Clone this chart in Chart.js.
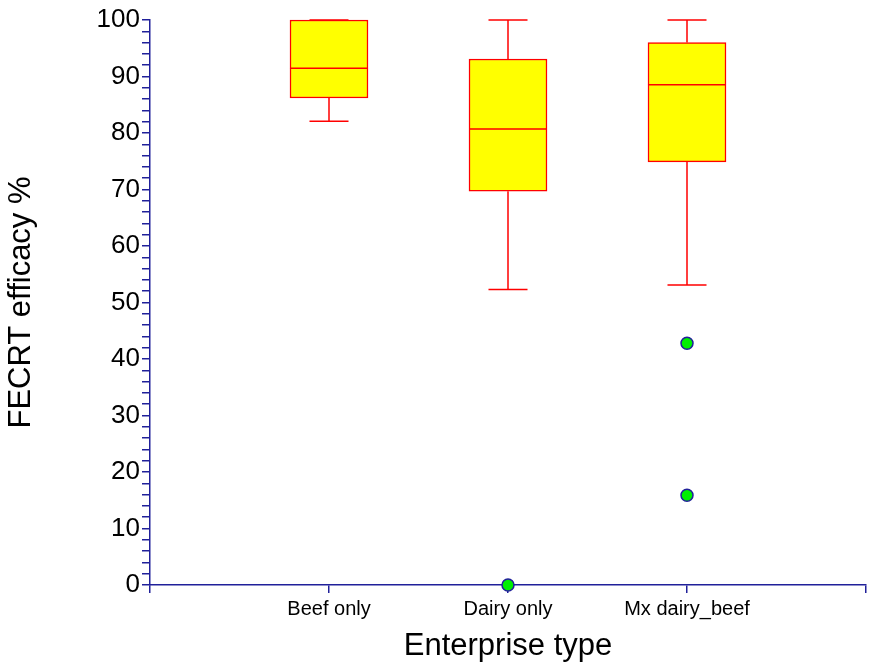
<!DOCTYPE html>
<html>
<head>
<meta charset="utf-8">
<script src="https://cdn.jsdelivr.net/npm/chart.js@4"></script>
<style>
  html, body { margin: 0; padding: 0; background: #fff; }
  #wrap { width: 869px; height: 667px; }
</style>
</head>
<body>
<div id="wrap"><canvas id="boxChart" width="869" height="667"></canvas></div>
<script>
// values
const categories = ["Beef only", "Dairy only", "Mx dairy_beef"];
const whiskerLow = [82.1, 52.3, 53.1];
const quartile1 = [86.2, 69.7, 74.9];
const medians = [91.45, 80.7, 88.55];
const quartile3 = [100, 93.1, 96.0];
const whiskerHigh = [100, 100, 100];
const outlierGroup = [2, 3, 3];
const outlierValues = [0, 42.8, 15.9];
const yTicks = { min: 0, max: 100, step: 2, labelEvery: 10 };

const axisBlue = "#20209a";
const boxHalf = 0.218;
const capHalf = 0.109;

const boxData = categories.map((c, i) => ({ x: i + 1, y: [quartile1[i], quartile3[i]] }));

const whiskerData = [];
const capData = [];
const medianData = [];
categories.forEach((c, i) => {
  const x = i + 1;
  whiskerData.push({ x: x, y: quartile3[i] }, { x: x, y: whiskerHigh[i] }, { x: x, y: null });
  whiskerData.push({ x: x, y: quartile1[i] }, { x: x, y: whiskerLow[i] }, { x: x, y: null });
  capData.push({ x: x - capHalf, y: whiskerHigh[i] }, { x: x + capHalf, y: whiskerHigh[i] }, { x: x, y: null });
  capData.push({ x: x - capHalf, y: whiskerLow[i] }, { x: x + capHalf, y: whiskerLow[i] }, { x: x, y: null });
  medianData.push({ x: x - boxHalf, y: medians[i] }, { x: x + boxHalf, y: medians[i] }, { x: x, y: null });
});
const outlierData = outlierValues.map((v, i) => ({ x: outlierGroup[i], y: v }));

const font = "'Liberation Sans', Arial, sans-serif";

const segLine = (data, order) => ({
  type: "line",
  data: data,
  borderColor: "#ff0000",
  borderWidth: 1.5,
  pointRadius: 0,
  spanGaps: false,
  fill: false,
  clip: false,
  order: order,
});

new Chart(document.getElementById("boxChart").getContext("2d"), {
  type: "bar",
  data: {
    datasets: [
      {
        type: "bar",
        data: boxData,
        backgroundColor: "#ffff00",
        borderColor: "#ff0000",
        borderWidth: 1.5,
        borderSkipped: false,
        barThickness: 78,
        clip: false,
        order: 4,
      },
      segLine(whiskerData, 3),
      segLine(capData, 3),
      segLine(medianData, 2),
      {
        type: "scatter",
        data: outlierData,
        backgroundColor: "#00f000",
        borderColor: axisBlue,
        borderWidth: 1.5,
        pointRadius: 6,
        clip: false,
        order: 1,
      },
    ],
  },
  options: {
    responsive: false,
    animation: false,
    layout: { autoPadding: false, padding: { top: 20, right: 3, left: 0, bottom: 0 } },
    plugins: {
      legend: { display: false },
      tooltip: { enabled: false },
    },
    scales: {
      x: {
        type: "linear",
        offset: false,
        min: 0,
        max: categories.length + 1,
        afterFit: (scale) => {
          scale.height = 82;
          scale.paddingRight = 0;
          scale.paddingLeft = 0;
        },
        afterBuildTicks: (scale) => {
          scale.ticks = [];
          for (let v = 0; v <= categories.length + 1; v++) scale.ticks.push({ value: v });
        },
        ticks: {
          autoSkip: false,
          maxRotation: 0,
          padding: 4,
          color: "#000",
          font: { family: font, size: 20 },
          callback: (v) => categories[v - 1] || "",
        },
        grid: { offset: false, drawOnChartArea: false, tickLength: 8, color: axisBlue, lineWidth: 1.5 },
        border: { color: axisBlue, width: 1.5 },
        title: {
          display: true,
          text: "Enterprise type",
          color: "#000",
          font: { family: font, size: 31 },
          padding: { top: 2, bottom: 2 },
        },
      },
      y: {
        min: yTicks.min,
        max: yTicks.max,
        afterFit: (scale) => { scale.width = 150; },
        ticks: {
          stepSize: yTicks.step,
          autoSkip: false,
          padding: 2,
          color: "#000",
          font: { family: font, size: 26 },
          callback: (v) => (v % yTicks.labelEvery === 0 ? v : ""),
        },
        grid: { drawOnChartArea: false, tickLength: 8, color: axisBlue, lineWidth: 1.5 },
        border: { color: axisBlue, width: 1.5 },
        title: {
          display: true,
          text: "FECRT efficacy %",
          color: "#000",
          font: { family: font, size: 31 },
          padding: { top: 3, bottom: 3 },
        },
      },
    },
  },
});
</script>
</body>
</html>
